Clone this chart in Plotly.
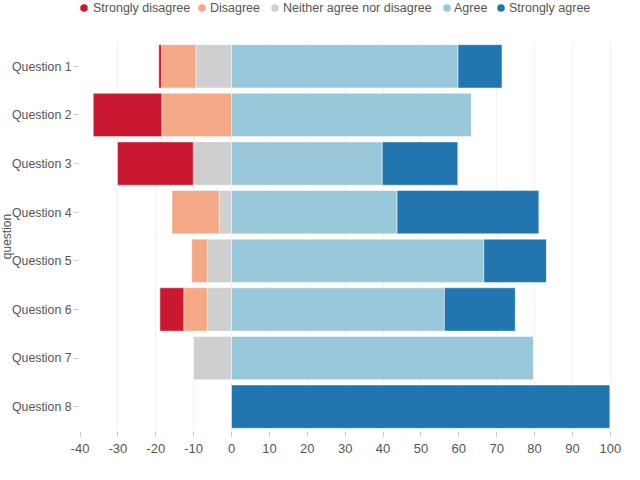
import plotly.graph_objects as go

questions = ["Question 1", "Question 2", "Question 3", "Question 4",
             "Question 5", "Question 6", "Question 7", "Question 8"]
strongly_disagree = [0.7, 18.1, 20.0, 0.0, 0.0, 6.3, 0.0, 0.0]
disagree = [9.1, 18.4, 0.0, 12.4, 4.1, 6.2, 0.0, 0.0]
neutral = [9.4, 0.0, 10.1, 3.3, 6.4, 6.4, 10.0, 0.0]
agree = [59.8, 63.4, 39.8, 43.7, 66.6, 56.2, 79.8, 0.0]
strongly_agree = [11.6, 0.0, 20.0, 37.5, 16.6, 18.7, 0.0, 100.0]

labels = ["Strongly disagree", "Disagree", "Neither agree nor disagree", "Agree", "Strongly agree"]
colors = ["#ca1830", "#f4a886", "#cfcfcf", "#9ac8db", "#2276b0"]
tick_vals = [-40, -30, -20, -10, 0, 10, 20, 30, 40, 50, 60, 70, 80, 90, 100]
tick_text = [str(v) for v in tick_vals]

fig = go.Figure()
line = dict(color="rgba(255,255,255,0.45)", width=1)

# negative side: closest to zero first
neg = [(2, neutral), (1, disagree), (0, strongly_disagree)]
pos = [(3, agree), (4, strongly_agree)]
for idx, vals in pos + neg:
    sign = -1 if idx < 3 else 1
    fig.add_trace(go.Bar(
        y=questions, x=[sign * v for v in vals], orientation="h",
        name=labels[idx], marker=dict(color=colors[idx], line=line),
        showlegend=False,
    ))

# layout geometry (pixels)
L, R, T, B = 80, 24, 42, 49
W, H = 640, 480
pw, ph = W - L - R, H - T - B

def px_x(p):
    return (p - L) / pw

def px_y(p):
    return (H - B - p) / ph

legend_dot_px = [84, 202, 275, 447, 501]
legend_text_px = [91, 208, 281, 452, 507]
ly = px_y(8)
shapes = []
annotations = []
for i, lab in enumerate(labels):
    shapes.append(dict(type="circle", xref="paper", yref="paper",
                       xsizemode="pixel", ysizemode="pixel",
                       xanchor=px_x(legend_dot_px[i]), yanchor=ly,
                       x0=-3.8, x1=3.8, y0=-3.8, y1=3.8,
                       fillcolor=colors[i], line=dict(width=0)))
    annotations.append(dict(text=lab, xref="paper", yref="paper",
                            x=px_x(legend_text_px[i]), y=ly,
                            xanchor="left", yanchor="middle", showarrow=False,
                            font=dict(size=12.5, color="#555")))

fig.update_layout(
    barmode="relative",
    bargap=0.11,
    width=W, height=H,
    margin=dict(l=L, r=R, t=T, b=B),
    paper_bgcolor="white", plot_bgcolor="white",
    font=dict(family="Liberation Sans, Arial, sans-serif", size=13, color="#555"),
    showlegend=False,
    shapes=shapes,
    annotations=annotations,
    xaxis=dict(range=[-40, 101.5], tickvals=tick_vals, ticktext=tick_text,
               showgrid=True, gridcolor="#f2f2f2", zeroline=False,
               ticks="outside", ticklen=5, tickcolor="#ccc", showline=False,
               automargin=False, tickfont=dict(size=13, color="#555")),
    yaxis=dict(autorange="reversed", ticks="outside", ticklen=5, tickcolor="#ccc",
               showgrid=False, zeroline=False, showline=False, automargin=False,
               title=dict(text="question", font=dict(size=12, color="#555")),
               tickfont=dict(size=12.3, color="#555")),
)
fig.write_html("out.html", config={"displayModeBar": False},
               post_script="document.body.style.margin='0px';")
